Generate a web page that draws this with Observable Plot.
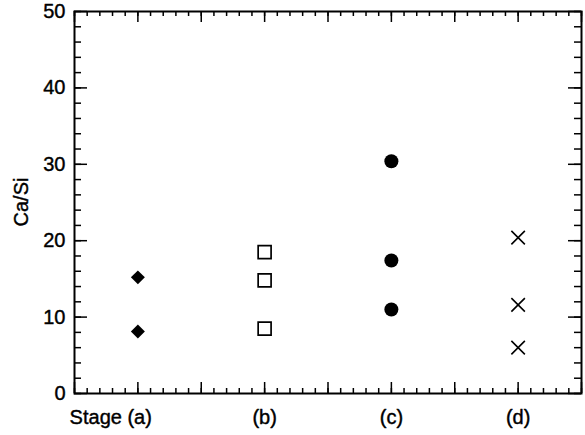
<!DOCTYPE html>
<html>
<head>
<meta charset="utf-8">
<script src="https://cdn.jsdelivr.net/npm/d3@7"></script>
<script src="https://cdn.jsdelivr.net/npm/@observablehq/plot@0.6"></script>
<style>
  html, body { margin: 0; padding: 0; background: #fff; }
  svg { display: block; }
</style>
</head>
<body>
<div id="chart"></div>
<script>
// Data
const stages = ["Stage (a)", "(b)", "(c)", "(d)"];
const stageA = [15.2, 8.1];
const stageB = [18.5, 14.8, 8.5];
const stageC = [30.4, 17.4, 11.0];
const stageD = [20.4, 11.6, 6.0];
const yMajorTicks = [0, 10, 20, 30, 40, 50];
const yMinorTicks = d3.range(0, 50.01, 2);
const xMajorTicks = d3.range(0.5, 4.51, 0.5);
const xMinorTicks = d3.range(0.5, 4.51, 0.1);

const W = 585, H = 435;
const mL = 74, mR = 4, mT = 11, mB = 42;
const plotW = W - mL - mR, plotH = H - mT - mB;
const font = "Liberation Sans, Arial, Helvetica, sans-serif";
const fs = 20;

const pts = (vals, i) => vals.map(v => ({x: i + 1, y: v}));

const chart = Plot.plot({
  width: W,
  height: H,
  marginLeft: mL,
  marginRight: mR,
  marginTop: mT,
  marginBottom: mB,
  style: {fontFamily: font, fontSize: fs + "px", color: "#000", background: "#fff"},
  x: {domain: [0.5, 4.5], axis: null},
  y: {domain: [0, 50], axis: null},
  marks: [
    // inward ticks: left / right
    Plot.tickY(yMajorTicks, {y: d => d, insetRight: plotW - 13, stroke: "#000", strokeWidth: 1.5}),
    Plot.tickY(yMinorTicks, {y: d => d, insetRight: plotW - 7, stroke: "#000", strokeWidth: 1.5}),
    Plot.tickY(yMajorTicks, {y: d => d, insetLeft: plotW - 13, stroke: "#000", strokeWidth: 1.5}),
    Plot.tickY(yMinorTicks, {y: d => d, insetLeft: plotW - 7, stroke: "#000", strokeWidth: 1.5}),
    // inward ticks: bottom / top
    Plot.tickX(xMajorTicks, {x: d => d, insetTop: plotH - 11, stroke: "#000", strokeWidth: 1.5}),
    Plot.tickX(xMinorTicks, {x: d => d, insetTop: plotH - 5, stroke: "#000", strokeWidth: 1.5}),
    Plot.tickX(xMajorTicks, {x: d => d, insetBottom: plotH - 11, stroke: "#000", strokeWidth: 1.5}),
    Plot.tickX(xMinorTicks, {x: d => d, insetBottom: plotH - 5, stroke: "#000", strokeWidth: 1.5}),
    Plot.frame({stroke: "#000", strokeWidth: 2}),
    // y tick labels
    Plot.text(yMajorTicks, {x: 0.5, y: d => d, text: d => String(d), textAnchor: "end", dx: -9, fontSize: fs, fill: "#000", stroke: "#000", strokeWidth: 0.4}),
    // x category labels
    Plot.text(stages, {x: (d, i) => i + 1, y: 0, text: d => d, textAnchor: "middle", dy: 24, fontSize: fs, fill: "#000", stroke: "#000", strokeWidth: 0.4}),
    // data
    Plot.dot(pts(stageA, 0), {x: "x", y: "y", symbol: "diamond2", r: 6.3, fill: "#000", stroke: "none"}),
    Plot.dot(pts(stageB, 1), {x: "x", y: "y", symbol: "square", r: 7.3, fill: "none", stroke: "#000", strokeWidth: 1.7}),
    Plot.dot(pts(stageC, 2), {x: "x", y: "y", symbol: "circle", r: 7, fill: "#000", stroke: "none"}),
    Plot.dot(pts(stageD, 3), {x: "x", y: "y", symbol: "times", r: 6.2, fill: "none", stroke: "#000", strokeWidth: 1.6})
  ]
});

// y axis title
const svg = d3.select(chart);
svg.append("text")
  .attr("transform", `translate(28, ${mT + plotH / 2}) rotate(-90)`)
  .attr("text-anchor", "middle")
  .attr("font-family", font)
  .attr("font-size", fs)
  .attr("fill", "#000")
  .attr("stroke", "#000")
  .attr("stroke-width", 0.4)
  .text("Ca/Si");

// shift "Stage (a)" so that "(a)" sits under its category
svg.selectAll("text").filter(function() { return this.textContent === "Stage (a)"; })
  .attr("text-anchor", "end").attr("dx", 14);

document.getElementById("chart").appendChild(chart);
</script>
</body>
</html>
